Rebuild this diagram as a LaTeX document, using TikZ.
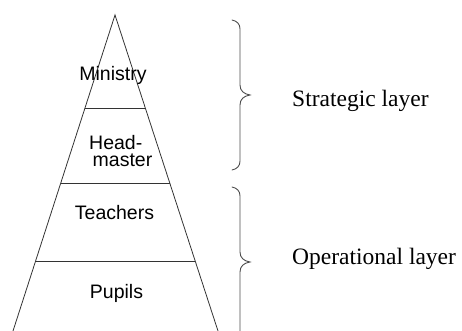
\documentclass[tikz,border=0pt]{standalone}
\usepackage{fontspec}
\usetikzlibrary{calc}
\setmainfont{Liberation Serif}
\newfontfamily\arialf{Liberation Sans}
\begin{document}
\begin{tikzpicture}[x=1pt,y=1pt,
  edge/.style={draw=black!80, line width=0.8pt},
  bracestyle/.style={draw=black!70, line width=0.9pt, line cap=round},
  level/.style={font=\arialf\fontsize{19.5}{17}\selectfont, inner sep=0pt, anchor=base},
  layer/.style={font=\fontsize{23.5}{26}\selectfont, inner sep=0pt, anchor=base west}]
\useasboundingbox (0,0) rectangle (462,331);
\coordinate (apex) at (115,316);
\coordinate (BL) at (13,0);
\coordinate (BR) at (218,0);
\draw[edge] (BL) -- (apex) -- (BR);
\coordinate (L1) at ($(apex)!0.2943!(BL)$);
\coordinate (R1) at ($(apex)!0.2943!(BR)$);
\coordinate (L2) at ($(apex)!0.5316!(BL)$);
\coordinate (R2) at ($(apex)!0.5316!(BR)$);
\coordinate (L3) at ($(apex)!0.7785!(BL)$);
\coordinate (R3) at ($(apex)!0.7785!(BR)$);
\draw[edge] (L1) -- (R1);
\draw[edge] (L2) -- (R2);
\draw[edge] (L3) -- (R3);
\node[level] (ministry) at (113,250) {Ministry};
\node[level, anchor=base west, align=left] (head) at (89,164) {Head-\\\hspace*{3.5pt}master};
\node[level] (teachers) at (114.5,111) {Teachers};
\node[level] (pupils) at (116.5,32) {Pupils};
% braces
\draw[bracestyle] (232,311) .. controls (237,310) and (240,307) .. (240,302)
  -- (240,246) .. controls (240,240) and (244,237) .. (250,236)
  .. controls (244,235) and (240,232) .. (240,226)
  -- (240,170) .. controls (240,165) and (237,162) .. (232,161);
\draw[bracestyle] (232,144) .. controls (237,143) and (240,140) .. (240,135)
  -- (240,79) .. controls (240,73) and (244,70) .. (250,69)
  .. controls (244,68) and (240,65) .. (240,59)
  -- (240,0);
\node[layer] (strategic) at (292,224) {Strategic layer};
\node[layer] (operational) at (292,66) {Operational layer};
\end{tikzpicture}
\end{document}
